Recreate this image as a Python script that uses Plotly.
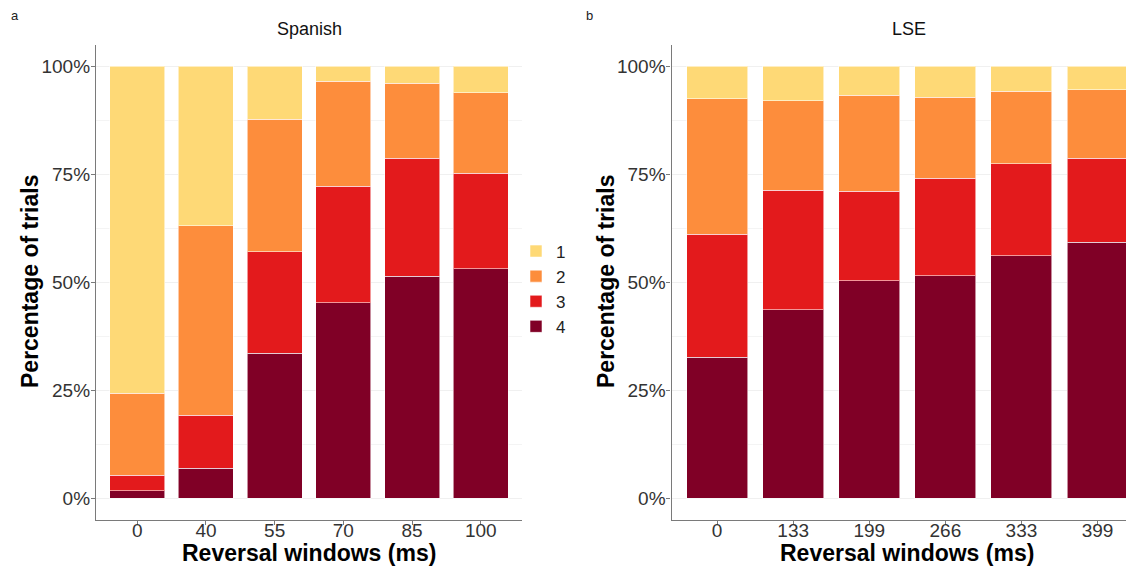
import plotly.graph_objects as go

# ---- data ----
spanish_windows = ["0", "40", "55", "70", "85", "100"]
lse_windows = ["0", "133", "199", "266", "333", "399"]
levels = ["1", "2", "3", "4"]

spanish_1 = [75.7, 36.9, 12.2, 3.5, 3.9, 6.1]
spanish_2 = [19.0, 43.9, 30.7, 24.3, 17.4, 18.6]
spanish_3 = [3.5, 12.2, 23.5, 26.9, 27.3, 22.2]
spanish_4 = [1.8, 7.0, 33.6, 45.3, 51.4, 53.1]

lse_1 = [7.5, 8.0, 6.7, 7.2, 5.8, 5.4]
lse_2 = [31.4, 20.7, 22.2, 18.7, 16.8, 15.9]
lse_3 = [28.4, 27.7, 20.7, 22.6, 21.2, 19.4]
lse_4 = [32.7, 43.6, 50.4, 51.5, 56.2, 59.3]

colors = {"1": "#FED976", "2": "#FD8D3C", "3": "#E31A1C", "4": "#800026"}

# page has an 8px body margin; figure fills the rest of the 1134x570 window
OFF = 8
W, H = 1134 - OFF, 570 - OFF
FONT = "Liberation Sans, Arial, sans-serif"

fig = go.Figure()

span_series = {"1": spanish_1, "2": spanish_2, "3": spanish_3, "4": spanish_4}
lse_series = {"1": lse_1, "2": lse_2, "3": lse_3, "4": lse_4}

for lvl in ["4", "3", "2", "1"]:
    fig.add_trace(go.Bar(
        x=spanish_windows, y=span_series[lvl], name=lvl,
        marker=dict(color=colors[lvl], line=dict(color="rgba(255,255,255,0.55)", width=1)),
        xaxis="x", yaxis="y", showlegend=True, width=0.8,
    ))
for lvl in ["4", "3", "2", "1"]:
    fig.add_trace(go.Bar(
        x=lse_windows, y=lse_series[lvl], name=lvl,
        marker=dict(color=colors[lvl], line=dict(color="rgba(255,255,255,0.55)", width=1)),
        xaxis="x2", yaxis="y2", showlegend=False, width=0.8,
    ))


def px_x(p):
    return (p - OFF) / W


def px_y(p):
    return 1 - (p - OFF) / H


y_dom = [px_y(520), px_y(44.7)]
left_dom = [px_x(96), px_x(522)]
right_dom = [px_x(671.5), 1.0]

axis_common = dict(
    showline=True, linecolor="#7a7a7a", linewidth=1.3,
    tickfont=dict(family=FONT, size=19, color="#333333"),
    ticks="outside", ticklen=4, tickcolor="#7a7a7a",
    zeroline=False, fixedrange=True,
)
pct_vals = [0, 25, 50, 75, 100]
pct_text = ["0%", "25%", "50%", "75%", "100%"]

fig.update_layout(
    width=W, height=H,
    margin=dict(l=0, r=0, t=0, b=0),
    paper_bgcolor="white", plot_bgcolor="white",
    barmode="stack", bargap=0.2,
    font=dict(family=FONT, color="#222222"),
    xaxis=dict(domain=left_dom, anchor="y", type="category",
               range=[-0.6, 5.6], showgrid=False, ticklabelstandoff=-11, **axis_common),
    yaxis=dict(domain=y_dom, anchor="x", range=[-5, 105],
               tickvals=pct_vals, ticktext=pct_text,
               showgrid=True, gridcolor="#f0f0f0", gridwidth=1, ticklabelstandoff=-3,
               minor=dict(dtick=12.5, tick0=0, showgrid=True, gridcolor="#f4f4f4", gridwidth=1, ticks=""),
               **axis_common),
    xaxis2=dict(domain=right_dom, anchor="y2", type="category",
                range=[-0.6, 5.48], showgrid=False, ticklabelstandoff=-11, **axis_common),
    yaxis2=dict(domain=y_dom, anchor="x2", range=[-5, 105],
                tickvals=pct_vals, ticktext=pct_text,
                showgrid=True, gridcolor="#f0f0f0", gridwidth=1, ticklabelstandoff=-3,
                minor=dict(dtick=12.5, tick0=0, showgrid=True, gridcolor="#f4f4f4", gridwidth=1, ticks=""),
                **axis_common),
    legend=dict(
        x=px_x(516), y=px_y(289), xanchor="left", yanchor="middle",
        traceorder="reversed",
        font=dict(family=FONT, size=17, color="#222222"),
        bgcolor="rgba(0,0,0,0)", itemwidth=30,
    ),
    showlegend=True,
)


def note(text, x, y, size, color, angle=0):
    return dict(text=text, x=px_x(x), y=px_y(y), xref="paper", yref="paper",
                xanchor="center", yanchor="middle", textangle=angle,
                showarrow=False, font=dict(family=FONT, size=size, color=color))


ann = [
    note("a", 15, 15, 13, "#222222"),
    note("b", 589, 15, 13, "#222222"),
    note("Spanish", 309, 29, 18, "#111111"),
    note("LSE", 909, 29, 18, "#111111"),
    note("<b>Reversal windows (ms)</b>", 309, 553, 23, "#000000"),
    note("<b>Reversal windows (ms)</b>", 907, 553, 23, "#000000"),
    note("<b>Percentage of trials</b>", 30, 282, 23, "#000000", -90),
    note("<b>Percentage of trials</b>", 606, 282, 23, "#000000", -90),
]
fig.update_layout(annotations=ann)

fig.write_html("out.html")
